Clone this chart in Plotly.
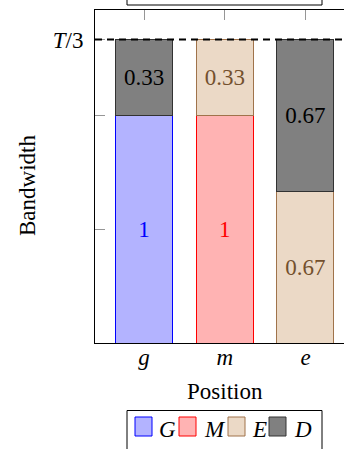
import plotly.graph_objects as go

# ---- data ----
positions = ["g", "m", "e"]
position_labels = ["<i>g</i>", "<i>m</i>", "<i>e</i>"]
G_vals = [1, None, None]
M_vals = [None, 1, None]
E_vals = [None, 1/3, 2/3]
D_vals = [1/3, None, 2/3]
G_text = ["1", "", ""]
M_text = ["", "1", ""]
E_text = ["", "0.33", "0.67"]
D_text = ["0.33", "", "0.67"]
T3 = 4/3
series_names = ["G", "M", "E", "D"]

FONT = "Liberation Serif"
FS = 23

# plot-area geometry (pixels)
W, H = 344, 449
L, R, T, B = 95, 0, 10, 106
PW, PH = W - L - R, H - T - B


def xp(px):
    return (px - L) / PW


def yp(py):
    return (H - B - py) / PH


fills = ["rgb(179,179,255)", "rgb(255,179,179)", "rgb(235,217,198)", "rgb(128,128,128)"]
borders = ["rgb(0,0,255)", "rgb(255,0,0)", "rgb(160,115,75)", "rgb(50,50,50)"]
txtcol = ["rgb(0,0,255)", "rgb(255,0,0)", "rgb(115,80,45)", "rgb(0,0,0)"]

fig = go.Figure()
for name, vals, txt, fc, bc, tc in zip(series_names, [G_vals, M_vals, E_vals, D_vals],
                                        [G_text, M_text, E_text, D_text], fills, borders, txtcol):
    tf = dict(family=FONT, size=FS, color=tc)
    fig.add_trace(go.Bar(
        x=positions, y=vals, name=name, text=txt,
        marker=dict(color=fc, line=dict(color=bc, width=1)),
        width=0.706, textposition="inside", insidetextanchor="middle",
        textangle=0, constraintext="none",
        textfont=tf, insidetextfont=tf,
        showlegend=False,
    ))

fig.update_layout(
    width=W, height=H, barmode="stack",
    margin=dict(l=L, r=R, t=T, b=B, pad=0),
    plot_bgcolor="white", paper_bgcolor="white",
    font=dict(family=FONT, size=FS, color="black"),
    showlegend=False,
)
fig.update_xaxes(
    type="category", range=[-0.607, 2.477],
    tickvals=positions, ticktext=position_labels,
    ticks="inside", ticklen=10, tickcolor="rgb(150,150,150)", tickwidth=1,
    showline=True, linecolor="black", linewidth=1, mirror="ticks",
    showgrid=False, layer="below traces",
    ticklabelstandoff=-7,
    tickfont=dict(family=FONT, size=FS),
)
fig.update_yaxes(
    range=[0, (H - B - T) / ((H - B - 39.5) / T3)],
    tickvals=[0.5, 1, T3], ticktext=["", "", "<i>T</i>/3"],
    ticks="inside", ticklen=10, tickcolor="rgb(150,150,150)", tickwidth=1,
    showline=True, linecolor="black", linewidth=1,
    showgrid=False, zeroline=False, layer="below traces",
    ticklabelstandoff=6,
    tickfont=dict(family=FONT, size=FS),
)

# dashed T/3 line
fig.add_shape(type="line", xref="paper", yref="y", x0=0, x1=1, y0=T3, y1=T3,
              line=dict(color="black", width=2, dash="7px,5px"), layer="above")

# axis titles
fig.add_annotation(text="Position", xref="paper", yref="paper", x=xp(224.5), y=yp(392),
                   showarrow=False, xanchor="center", yanchor="middle",
                   font=dict(family=FONT, size=FS))
fig.add_annotation(text="Bandwidth", xref="paper", yref="paper", x=xp(27), y=yp(186),
                   showarrow=False, xanchor="center", yanchor="middle", textangle=-90,
                   font=dict(family=FONT, size=FS))

# top (cut-off) legend frame
fig.add_shape(type="rect", xref="paper", yref="paper", x0=xp(127), x1=xp(322),
              y0=yp(5), y1=yp(-60), line=dict(color="black", width=1), fillcolor="white")

# bottom legend
fig.add_shape(type="rect", xref="paper", yref="paper", x0=xp(127), x1=xp(322),
              y0=yp(410.5), y1=yp(480), line=dict(color="black", width=1), fillcolor="white")
sq_x = [135, 179, 228, 269]
tx_x = [157, 202, 250, 292]
for name, fc, bc, sx, tx in zip(series_names, fills, borders, sq_x, tx_x):
    fig.add_shape(type="rect", xref="paper", yref="paper", x0=xp(sx), x1=xp(sx + 17),
                  y0=yp(436), y1=yp(417), line=dict(color=bc, width=1), fillcolor=fc)
    fig.add_annotation(text=f"<i>{name}</i>", xref="paper", yref="paper", x=xp(tx), y=yp(429),
                       showarrow=False, xanchor="left", yanchor="middle",
                       font=dict(family=FONT, size=FS))

fig.write_html("out.html")
